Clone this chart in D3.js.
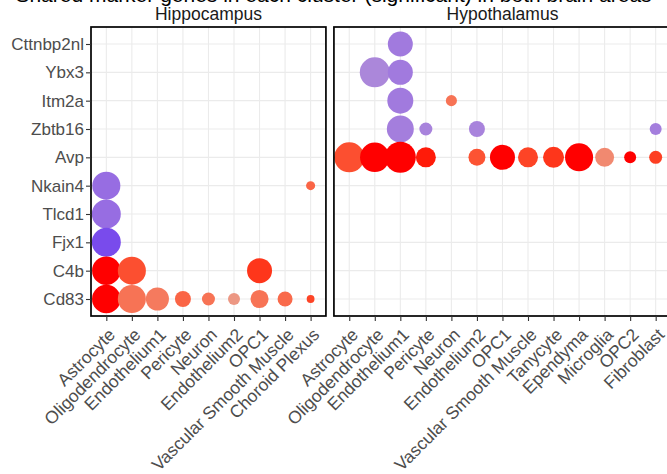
<!DOCTYPE html>
<html>
<head>
<meta charset="utf-8">
<script src="https://cdn.jsdelivr.net/npm/d3@7"></script>
<style>
  body { margin: 0; background: #fff; }
  svg text { font-family: "Liberation Sans", Arial, Helvetica, sans-serif; }
</style>
</head>
<body>
<svg id="chart" width="667" height="474"></svg>
<script>
// Genes on the y axis, top to bottom
const genes = ["Cttnbp2nl", "Ybx3", "Itm2a", "Zbtb16", "Avp", "Nkain4", "Tlcd1", "Fjx1", "C4b", "Cd83"];

// Cell types per brain region (x axis of each facet)
const hippocampusCells = ["Astrocyte", "Oligodendrocyte", "Endothelium1", "Pericyte", "Neuron",
  "Endothelium2", "OPC1", "Vascular Smooth Muscle", "Choroid Plexus"];
const hypothalamusCells = ["Astrocyte", "Oligodendrocyte", "Endothelium1", "Pericyte", "Neuron",
  "Endothelium2", "OPC1", "Vascular Smooth Muscle", "Tanycyte", "Ependyma", "Microglia", "OPC2", "Fibroblast"];

// [gene, cell type, average log fold change, percent of cells expressing]
const hippocampusPoints = [
  ["Nkain4", "Astrocyte", -0.65, 77],
  ["Nkain4", "Choroid Plexus", 0.68, 8],
  ["Tlcd1", "Astrocyte", -0.65, 82],
  ["Fjx1", "Astrocyte", -0.9, 82],
  ["C4b", "Astrocyte", 1.0, 79],
  ["C4b", "Oligodendrocyte", 0.8, 77],
  ["C4b", "OPC1", 0.9, 61],
  ["Cd83", "Astrocyte", 1.0, 80],
  ["Cd83", "Oligodendrocyte", 0.6, 77],
  ["Cd83", "Endothelium1", 0.55, 52],
  ["Cd83", "Pericyte", 0.68, 25],
  ["Cd83", "Neuron", 0.6, 16.5],
  ["Cd83", "Endothelium2", 0.35, 14],
  ["Cd83", "OPC1", 0.6, 32],
  ["Cd83", "Vascular Smooth Muscle", 0.65, 22],
  ["Cd83", "Choroid Plexus", 0.85, 6]
];
const hypothalamusPoints = [
  ["Cttnbp2nl", "Endothelium1", -0.55, 61],
  ["Ybx3", "Oligodendrocyte", -0.45, 88],
  ["Ybx3", "Endothelium1", -0.55, 61],
  ["Itm2a", "Endothelium1", -0.55, 66],
  ["Itm2a", "Neuron", 0.6, 12],
  ["Zbtb16", "Endothelium1", -0.52, 71],
  ["Zbtb16", "Pericyte", -0.48, 16.5],
  ["Zbtb16", "Endothelium2", -0.48, 25],
  ["Zbtb16", "Fibroblast", -0.52, 14],
  ["Avp", "Astrocyte", 0.8, 88],
  ["Avp", "Oligodendrocyte", 1.0, 85],
  ["Avp", "Endothelium1", 1.0, 94],
  ["Avp", "Pericyte", 0.97, 39],
  ["Avp", "Endothelium2", 0.78, 28],
  ["Avp", "OPC1", 1.0, 61],
  ["Avp", "Vascular Smooth Muscle", 0.85, 39],
  ["Avp", "Tanycyte", 0.9, 43],
  ["Avp", "Ependyma", 1.0, 77],
  ["Avp", "Microglia", 0.45, 35],
  ["Avp", "OPC2", 1.0, 14],
  ["Avp", "Fibroblast", 0.87, 16.5]
];

const regionTitles = ["Hippocampus", "Hypothalamus"];
const plotTitle = "Shared marker genes in each cluster (significant) in both brain areas";

// ---- layout ----
const svg = d3.select("#chart");
svg.append("rect").attr("width", 667).attr("height", 474).attr("fill", "#fff");

const plotLeft = 91, plotTop = 27, plotBottom = 316, plotRight = 671, gap = 8, pad = 0.6;
const n1 = hippocampusCells.length, n2 = hypothalamusCells.length;
const step = (plotRight - plotLeft - gap) / (n1 - 1 + 2 * pad + n2 - 1 + 2 * pad);
const w1 = step * (n1 - 1 + 2 * pad), w2 = step * (n2 - 1 + 2 * pad);

const y = d3.scalePoint().domain(genes).range([plotTop, plotBottom]).padding(pad);
const color = d3.scaleLinear().domain([-1, 0, 1])
  .range(["#6a3def", "#cfc3c6", "#ff0000"])
  .interpolate(d3.interpolateLab).clamp(true);
const radius = d3.scaleSqrt().domain([0, 100]).range([0, 16]);

// title, mostly above the visible area
svg.append("text").attr("x", 333.5).attr("y", 1.5).attr("text-anchor", "middle")
  .attr("font-size", 21).attr("fill", "#000").text(plotTitle);

const panels = [
  { title: regionTitles[0], cells: hippocampusCells, points: hippocampusPoints, x0: plotLeft, w: w1, yAxis: true },
  { title: regionTitles[1], cells: hypothalamusCells, points: hypothalamusPoints, x0: plotLeft + w1 + gap, w: w2, yAxis: false }
];

panels.forEach(p => {
  const x = d3.scalePoint().domain(p.cells).range([0, p.w]).padding(pad);
  const g = svg.append("g").attr("transform", `translate(${p.x0},0)`);

  // grid
  g.append("g").selectAll("line").data(p.cells).join("line")
    .attr("x1", d => x(d)).attr("x2", d => x(d)).attr("y1", plotTop).attr("y2", plotBottom)
    .attr("stroke", "#ebebeb").attr("stroke-width", 1.1);
  g.append("g").selectAll("line").data(genes).join("line")
    .attr("x1", 0).attr("x2", p.w).attr("y1", d => y(d)).attr("y2", d => y(d))
    .attr("stroke", "#ebebeb").attr("stroke-width", 1.1);

  // dots
  g.append("g").selectAll("circle").data(p.points).join("circle")
    .attr("cx", d => x(d[1])).attr("cy", d => y(d[0]))
    .attr("r", d => radius(d[3]))
    .attr("fill", d => color(d[2]));

  // panel border
  g.append("rect").attr("x", 0).attr("y", plotTop).attr("width", p.w).attr("height", plotBottom - plotTop)
    .attr("fill", "none").attr("stroke", "#000").attr("stroke-width", 1.7);

  // strip title
  g.append("text").attr("x", p.w / 2).attr("y", 20).attr("text-anchor", "middle")
    .attr("font-size", 17.5).attr("fill", "#1a1a1a").text(p.title);

  // x axis
  const xa = g.append("g").attr("transform", `translate(0,${plotBottom})`)
    .call(d3.axisBottom(x).tickSize(5).tickSizeOuter(0));
  xa.select(".domain").remove();
  xa.selectAll(".tick line").attr("stroke", "#333").attr("stroke-width", 1.1);
  xa.selectAll(".tick text")
    .attr("x", 0).attr("y", 0).attr("dy", "0.75em")
    .attr("text-anchor", "end")
    .attr("transform", "translate(0,10.5) rotate(-45)")
    .attr("font-size", 17.5).attr("fill", "#4d4d4d")
    .style("font-family", "'Liberation Sans', Arial, sans-serif");

  if (p.yAxis) {
    const ya = g.append("g").call(d3.axisLeft(y).tickSize(5).tickSizeOuter(0).tickPadding(2));
    ya.select(".domain").remove();
    ya.selectAll(".tick line").attr("stroke", "#333").attr("stroke-width", 1.1);
    ya.selectAll(".tick text").attr("font-size", 17).attr("fill", "#4d4d4d")
      .style("font-family", "'Liberation Sans', Arial, sans-serif");
  }
});
</script>
</body>
</html>
